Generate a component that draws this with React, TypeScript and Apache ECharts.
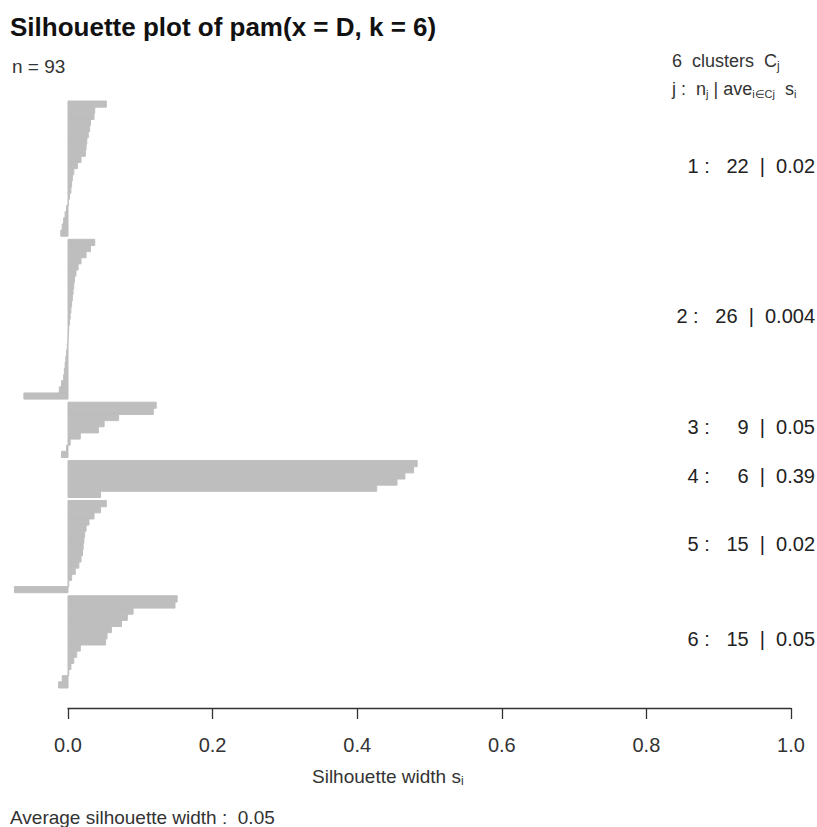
import React, { useEffect, useRef } from "react";
import * as echarts from "echarts";

// ---- data ----
const clusterIds = [1, 2, 3, 4, 5, 6];
const clusterSizes = [22, 26, 9, 6, 15, 15];
const clusterAverages = ["0.02", "0.004", "0.05", "0.39", "0.02", "0.05"];
const cluster1 = [0.053, 0.037, 0.036, 0.031, 0.03, 0.028, 0.026, 0.025, 0.024, 0.018, 0.013, 0.008, 0.006, 0.005, 0.004, 0.002, 0.0005, -0.002, -0.004, -0.006, -0.008, -0.01];
const cluster2 = [0.037, 0.031, 0.025, 0.018, 0.014, 0.011, 0.009, 0.008, 0.007, 0.006, 0.005, 0.004, 0.003, 0.002, 0.001, 0.0005, 0, -0.001, -0.002, -0.003, -0.004, -0.005, -0.006, -0.009, -0.012, -0.061];
const cluster3 = [0.122, 0.118, 0.07, 0.05, 0.042, 0.017, 0.003, -0.002, -0.009];
const cluster4 = [0.483, 0.478, 0.466, 0.455, 0.427, 0.045];
const cluster5 = [0.053, 0.045, 0.036, 0.029, 0.025, 0.023, 0.022, 0.021, 0.02, 0.018, 0.015, 0.01, 0.005, 0.001, -0.074];
const cluster6 = [0.151, 0.148, 0.09, 0.082, 0.074, 0.06, 0.054, 0.052, 0.017, 0.012, 0.008, 0.004, 0.001, -0.008, -0.013];
const xTicks = [0, 0.2, 0.4, 0.6, 0.8, 1.0];
const nTotal = 93;
const averageWidth = "0.05";
const clusterGap = 0.5;

const FONT = '"Liberation Sans", Arial, Helvetica, sans-serif';

export default function App() {
  const ref = useRef<HTMLDivElement>(null);
  useEffect(() => {
    if (!ref.current) return;
    const chart = echarts.init(ref.current, undefined, { renderer: "svg" });
    const clusters = [cluster1, cluster2, cluster3, cluster4, cluster5, cluster6];
    const barData: number[][] = [];
    const labelData: number[][] = [];
    let offset = 0;
    clusters.forEach((vals, c) => {
      vals.forEach((v, i) => barData.push([v, offset + i, c]));
      labelData.push([1, offset + vals.length / 2, c]);
      offset += vals.length + clusterGap;
    });
    const yMax = offset - clusterGap;

    chart.setOption({
      animation: false,
      backgroundColor: "#ffffff",
      grid: { left: 68, right: 26, top: 101, bottom: 139, containLabel: false },
      xAxis: {
        type: "value",
        position: "bottom",
        min: xTicks[0],
        max: xTicks[xTicks.length - 1],
        interval: 0.2,
        offset: 20,
        axisLine: { show: true, onZero: false, lineStyle: { color: "#333", width: 1.3 } },
        axisTick: { show: true, inside: false, length: 11, lineStyle: { color: "#333", width: 1.3 } },
        axisLabel: {
          margin: 27,
          fontFamily: FONT,
          fontSize: 20,
          color: "#333",
          formatter: (v: number) => v.toFixed(1),
        },
        splitLine: { show: false },
      },
      yAxis: { type: "value", min: 0, max: yMax, inverse: true, show: false },
      series: [
        {
          type: "custom",
          clip: false,
          data: barData,
          encode: { x: 0, y: 1 },
          renderItem: (params: any, api: any) => {
            const v = api.value(0);
            const p = api.value(1);
            const a = api.coord([0, p]);
            const b = api.coord([v, p + 1]);
            return {
              type: "rect",
              shape: {
                x: Math.min(a[0], b[0]),
                y: Math.min(a[1], b[1]),
                width: Math.abs(b[0] - a[0]),
                height: Math.abs(b[1] - a[1]),
              },
              style: { fill: "#bebebe", stroke: "#bebebe", lineWidth: 1 },
            };
          },
        },
        {
          type: "custom",
          clip: false,
          data: labelData,
          encode: { x: 0, y: 1 },
          renderItem: (params: any, api: any) => {
            const c = params.dataIndex;
            const pt = api.coord([api.value(0), api.value(1)]);
            return {
              type: "text",
              style: {
                x: api.getWidth() - 2,
                y: pt[1] - 3,
                text: `${clusterIds[c]} :   ${clusterSizes[c] < 10 ? "  " : ""}${clusterSizes[c]}  |  ${clusterAverages[c]}`,
                align: "right",
                verticalAlign: "middle",
                font: `20px ${FONT}`,
                fill: "#222",
              },
            };
          },
        },
      ],
      graphic: [
        {
          type: "text",
          left: 10,
          top: 14,
          style: { text: "Silhouette plot of pam(x = D, k = 6)", font: `bold 26px ${FONT}`, fill: "#111" },
        },
        {
          type: "text",
          left: 12,
          top: 57,
          style: { text: `n = ${nTotal}`, font: `19px ${FONT}`, fill: "#333" },
        },
        {
          type: "text",
          left: 672,
          top: 50,
          style: {
            text: "{a|6  clusters  C}{s|j}",
            rich: {
              a: { font: `18px ${FONT}`, fill: "#333", lineHeight: 22 },
              s: { font: `12px ${FONT}`, fill: "#333", lineHeight: 22, padding: [10, 0, 0, 0] },
            },
          },
        },
        {
          type: "text",
          left: 672,
          top: 78,
          style: {
            text: "{a|j :  n}{s|j}{a| | ave}{s|i∈Cj}{a|  s}{s|i}",
            rich: {
              a: { font: `18px ${FONT}`, fill: "#333", lineHeight: 22 },
              s: { font: `11px ${FONT}`, fill: "#333", lineHeight: 22, padding: [10, 0, 0, 0] },
            },
          },
        },
        {
          type: "text",
          left: 312,
          top: 765,
          style: {
            text: "{a|Silhouette width s}{s|i}",
            rich: {
              a: { font: `19px ${FONT}`, fill: "#333", lineHeight: 22 },
              s: { font: `12px ${FONT}`, fill: "#333", lineHeight: 22, padding: [10, 0, 0, 0] },
            },
          },
        },
        {
          type: "text",
          left: 10,
          top: 808,
          style: { text: `Average silhouette width :  ${averageWidth}`, font: `19px ${FONT}`, fill: "#333" },
        },
      ],
    });
    return () => chart.dispose();
  }, []);
  return (
    <div
      ref={ref}
      style={{ position: "fixed", left: 0, top: 0, width: 817, height: 827, background: "#fff" }}
    />
  );
}
